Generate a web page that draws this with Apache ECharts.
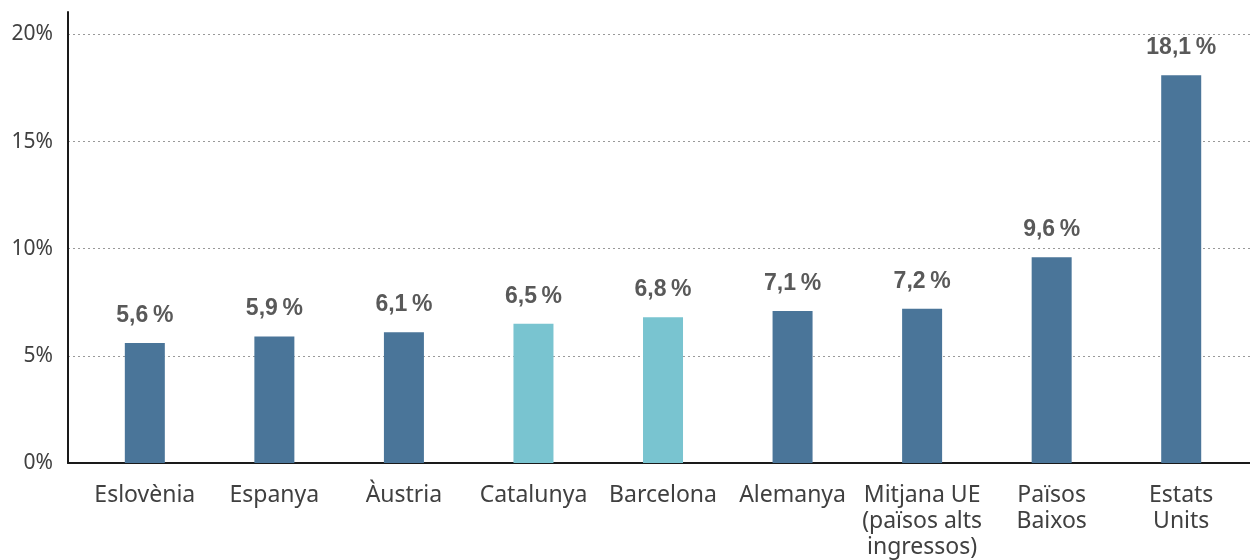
<!DOCTYPE html>
<html>
<head>
<meta charset="utf-8">
<script src="https://cdn.jsdelivr.net/npm/echarts@6/dist/echarts.min.js"></script>
<style>
html,body{margin:0;padding:0;background:#fff;}
#chart{width:1250px;height:560px;}
</style>
</head>
<body>
<div id="chart"></div>
<script>
const categories = ["Eslovènia", "Espanya", "Àustria", "Catalunya", "Barcelona", "Alemanya", "Mitjana UE\n(països alts\ningressos)", "Països\nBaixos", "Estats\nUnits"];
const values = [5.6, 5.9, 6.1, 6.5, 6.8, 7.1, 7.2, 9.6, 18.1];
const highlighted = ["Catalunya", "Barcelona"];

const darkBlue = '#4a7599';
const lightTeal = '#79c4d0';

const chart = echarts.init(document.getElementById('chart'), null, {renderer: 'canvas'});
const positions = categories.map((c, i) => i);

chart.setOption({
  animation: false,
  backgroundColor: '#ffffff',
  grid: {left: 68, right: 0, top: 12, bottom: 96, containLabel: false},
  xAxis: {
    type: 'value',
    min: -0.593,
    max: 8.531,
    axisLine: {show: true, onZero: false, lineStyle: {color: '#1a1a1a', width: 2}},
    axisTick: {show: false},
    splitLine: {show: false},
    axisLabel: {
      customValues: positions,
      formatter: v => categories[Math.round(v)] || '',
      color: '#404040',
      fontFamily: '"Noto Sans", Roboto, sans-serif',
      fontSize: 23,
      lineHeight: 26,
      margin: 19,
      align: 'center',
      verticalAlign: 'top'
    }
  },
  yAxis: {
    type: 'value',
    min: 0,
    max: 21.05,
    interval: 5,
    axisLine: {show: true, onZero: false, lineStyle: {color: '#1a1a1a', width: 2}},
    axisTick: {show: false},
    axisLabel: {
      formatter: '{value}%',
      showMaxLabel: false,
      color: '#404040',
      fontFamily: '"Noto Sans", Roboto, sans-serif',
      fontSize: 21,
      margin: 15
    },
    splitLine: {
      show: true,
      showMaxLine: false,
      showMinLine: false,
      lineStyle: {color: '#999999', width: 1, type: [2, 3]}
    }
  },
  series: [{
    type: 'bar',
    barWidth: 40,
    data: values.map((v, i) => ({
      value: [i, v],
      itemStyle: {color: highlighted.includes(categories[i]) ? lightTeal : darkBlue}
    })),
    label: {
      show: true,
      position: 'top',
      distance: 16,
      formatter: p => String(p.value[1]).replace('.', ',') + '\u2009%',
      color: '#595959',
      fontWeight: 'bold',
      fontFamily: '"Liberation Sans", Arial, sans-serif',
      fontSize: 23
    }
  }]
});
</script>
</body>
</html>
